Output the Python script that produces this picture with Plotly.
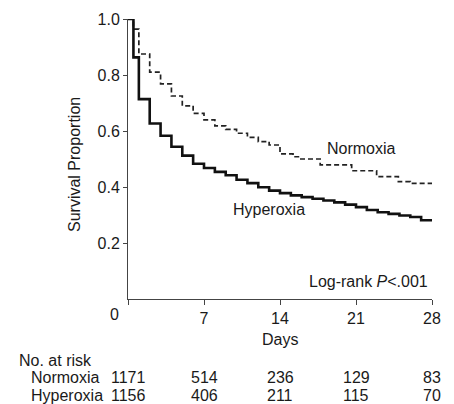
import plotly.graph_objects as go

# ---- data ----
hyper_days = [0, 0.5, 1, 2, 3, 4, 5, 6, 7, 8, 9, 10, 11, 12, 13, 14, 15, 16, 17, 18, 19, 20, 21, 22, 23, 24, 25, 26, 27, 28]
hyper_surv = [1.0, 0.863, 0.714, 0.627, 0.583, 0.544, 0.512, 0.483, 0.468, 0.454, 0.442, 0.426, 0.414, 0.399, 0.387,
              0.378, 0.370, 0.364, 0.358, 0.352, 0.345, 0.337, 0.328, 0.318, 0.310, 0.304, 0.298, 0.293, 0.281, 0.281]
normo_days = [0, 0.5, 1, 2, 3, 4, 5, 6, 7, 8, 9, 10, 11, 12, 13, 14, 15.2, 15.8, 17.7, 20.6, 22.9, 24.9, 26.0, 28]
normo_surv = [1.0, 0.964, 0.875, 0.810, 0.768, 0.725, 0.690, 0.663, 0.640, 0.618, 0.606, 0.592, 0.577, 0.562, 0.550,
              0.518, 0.508, 0.500, 0.479, 0.458, 0.437, 0.419, 0.413, 0.413]

risk_days = [0, 7, 14, 21, 28]
risk_normo = [1171, 514, 236, 129, 83]
risk_hyper = [1156, 406, 211, 115, 70]

x_ticks = [0, 7, 14, 21, 28]
y_ticks = [0.2, 0.4, 0.6, 0.8, 1.0]

FONT = "Liberation Sans, Arial, Helvetica, sans-serif"
TXT = "#1a1a1a"

fig = go.Figure()
fig.add_trace(go.Scatter(x=normo_days, y=normo_surv, mode="lines", line_shape="hv",
                         line=dict(color="#222", width=1.7, dash="5px,3px"), name="Normoxia"))
fig.add_trace(go.Scatter(x=hyper_days, y=hyper_surv, mode="lines", line_shape="hv",
                         line=dict(color="#111", width=2.6), name="Hyperoxia"))

fig.update_layout(
    width=454, height=404,
    margin=dict(l=128, r=22, t=19, b=105),
    paper_bgcolor="white", plot_bgcolor="white",
    showlegend=False,
    font=dict(family=FONT, size=16, color=TXT),
    xaxis=dict(range=[0, 28], tickvals=x_ticks, ticktext=["", "7", "14", "21", "28"],
               ticks="outside", ticklen=5, tickcolor="#444", tickwidth=1,
               showline=True, linecolor="#444", linewidth=1, showgrid=False, zeroline=False,
               tickfont=dict(size=16, color=TXT)),
    yaxis=dict(range=[0, 1.0], tickvals=y_ticks, ticktext=["0.2", "0.4", "0.6", "0.8", "1.0"],
               ticks="outside", ticklen=4, tickcolor="#444", tickwidth=1,
               showline=True, linecolor="#444", linewidth=1, showgrid=False, zeroline=False,
               tickfont=dict(size=16, color=TXT)),
)

ann = []
# x-axis "0" label (offset left in reference)
ann.append(dict(x=-0.0428, y=-0.057, xref="paper", yref="paper", text="0", showarrow=False,
                xanchor="center", yanchor="middle", font=dict(size=16)))
ann.append(dict(x=0.5, y=-0.146, xref="paper", yref="paper", text="Days", showarrow=False,
                xanchor="center", yanchor="middle", font=dict(size=16)))
ann.append(dict(x=-0.174, y=0.479, xref="paper", yref="paper", text="Survival Proportion", showarrow=False,
                textangle=-90, xanchor="center", yanchor="middle", font=dict(size=16)))
# in-plot labels
ann.append(dict(x=18.14, y=0.539, xref="x", yref="y", text="Normoxia", showarrow=False,
                xanchor="left", yanchor="middle", font=dict(size=16)))
ann.append(dict(x=9.49, y=0.321, xref="x", yref="y", text="Hyperoxia", showarrow=False,
                xanchor="left", yanchor="middle", font=dict(size=16)))
ann.append(dict(x=27.8, y=0.061, xref="x", yref="y", text="Log-rank <i>P</i><.001", showarrow=False,
                xanchor="right", yanchor="middle", font=dict(size=16)))
# number at risk table
ann.append(dict(x=-0.365, y=-0.221, xref="paper", yref="paper", text="No. at risk", showarrow=False,
                xanchor="left", yanchor="middle", font=dict(size=16)))
ann.append(dict(x=-0.326, y=-0.282, xref="paper", yref="paper", text="Normoxia", showarrow=False,
                xanchor="left", yanchor="middle", font=dict(size=16)))
ann.append(dict(x=-0.326, y=-0.343, xref="paper", yref="paper", text="Hyperoxia", showarrow=False,
                xanchor="left", yanchor="middle", font=dict(size=16)))
for d, n in zip(risk_days, risk_normo):
    ann.append(dict(x=d, y=-0.282, xref="x", yref="paper", text=str(n), showarrow=False,
                    xanchor="center", yanchor="middle", font=dict(size=16)))
for d, n in zip(risk_days, risk_hyper):
    ann.append(dict(x=d, y=-0.343, xref="x", yref="paper", text=str(n), showarrow=False,
                    xanchor="center", yanchor="middle", font=dict(size=16)))
fig.update_layout(annotations=ann)

fig.write_html("out.html")
